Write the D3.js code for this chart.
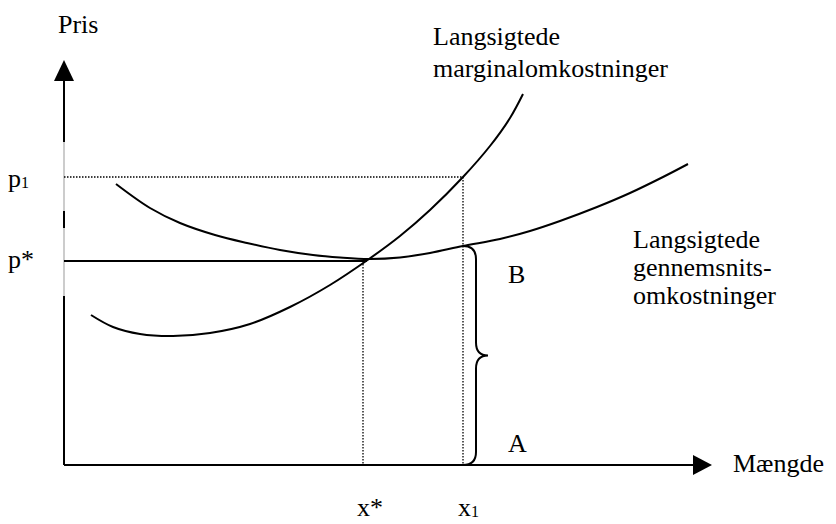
<!DOCTYPE html>
<html lang="da">
<head>
  <meta charset="UTF-8">
  <title>Langsigtede omkostninger</title>
  <style>
    body {
      margin: 0;
      background: #fff;
    }

    svg text {
      font-family: "Liberation Serif", "Times New Roman", serif;
      font-size: 26px;
      fill: #000;
    }

    .curve {
      fill: none;
      stroke: #000;
      stroke-width: 2;
    }

    .guide {
      fill: none;
      stroke: #000;
      stroke-width: 1.3;
      stroke-dasharray: 1.5 1.5;
    }
  </style>
</head>
<body>
  <svg id="chart" width="836" height="524"></svg>

  <script src="https://d3js.org/d3.v7.min.js"></script>
  <script>
    // curves (quantity, price)
    const mcQuantity = [27, 49, 76, 109, 146, 186, 226, 266, 305, 336, 366, 399, 426, 446, 459];
    const mcPrice    = [150, 138, 131, 129, 132, 141, 158, 180, 206, 229, 255, 288, 319, 347, 371];

    const acQuantity = [52, 86, 116, 151, 183, 216, 249, 276, 305, 336, 366, 399, 436, 466, 496, 533, 566, 599, 624];
    const acPrice    = [281, 257, 242, 230, 222, 215, 210, 207.5, 206, 207.5, 212, 219, 226, 234, 244, 258, 272, 288, 301];

    const pStar = 204;
    const pOne = 288;
    const xStar = 299;
    const xOne = 399;
    const pStarLineEnd = 303;

    // the price axis is partly covered by the label boxes in the original
    const yAxisSolid = [[0, 169], [237, 254], [323, 384]];

    const topLabel = ["Langsigtede", "marginalomkostninger"];
    const rightLabel = ["Langsigtede", "gennemsnits-", "omkostninger"];

    const x = d3.scaleLinear().domain([0, 648]).range([64, 712]);
    const y = d3.scaleLinear().domain([0, 405]).range([465, 60]);

    const svg = d3.select("#chart");

    // price axis
    svg.append("line")
      .attr("x1", x(0)).attr("x2", x(0))
      .attr("y1", y(0)).attr("y2", y(384))
      .attr("stroke", "#999")
      .attr("stroke-width", 1);

    svg.selectAll(".yseg")
      .data(yAxisSolid)
      .enter()
      .append("line")
      .attr("class", "yseg")
      .attr("x1", x(0)).attr("x2", x(0))
      .attr("y1", d => y(d[0])).attr("y2", d => y(d[1]))
      .attr("stroke", "#000")
      .attr("stroke-width", 2);

    svg.append("path")
      .attr("d", `M${x(0)},${y(405)}L${x(0) - 10},${y(384)}L${x(0) + 10},${y(384)}Z`)
      .attr("fill", "#000");

    // quantity axis
    svg.append("line")
      .attr("x1", x(0)).attr("x2", x(630))
      .attr("y1", y(0)).attr("y2", y(0))
      .attr("stroke", "#000")
      .attr("stroke-width", 2);

    svg.append("path")
      .attr("d", `M${x(648)},${y(0)}L${x(629)},${y(0) - 10}L${x(629)},${y(0) + 10}Z`)
      .attr("fill", "#000");

    // dotted guides
    svg.append("path")
      .attr("class", "guide")
      .attr("d", `M${x(0)},${y(pOne)}H${x(xOne)}V${y(0)}`);

    svg.append("path")
      .attr("class", "guide")
      .attr("d", `M${x(xStar)},${y(pStar)}V${y(0)}`);

    // p* line
    svg.append("line")
      .attr("x1", x(0)).attr("x2", x(pStarLineEnd))
      .attr("y1", y(pStar)).attr("y2", y(pStar))
      .attr("stroke", "#000")
      .attr("stroke-width", 2);

    const line = d3.line()
      .x(d => x(d[0]))
      .y(d => y(d[1]))
      .curve(d3.curveCatmullRom);

    svg.append("path")
      .attr("class", "curve")
      .attr("d", line(d3.zip(mcQuantity, mcPrice)));

    svg.append("path")
      .attr("class", "curve")
      .attr("d", line(d3.zip(acQuantity, acPrice)));

    // brace between x1 on the AC curve and the axis
    const acAtX1 = acPrice[acQuantity.indexOf(xOne)];
    const bx = x(xOne), bTop = y(acAtX1), bBot = y(0);
    const bMid = (bTop + bBot) / 2;
    const br = 13, tip = 12;
    svg.append("path")
      .attr("class", "curve")
      .attr("d",
        `M${bx},${bTop}` +
        `Q${bx + br},${bTop} ${bx + br},${bTop + br}` +
        `V${bMid - br}` +
        `Q${bx + br},${bMid} ${bx + br + tip},${bMid}` +
        `Q${bx + br},${bMid} ${bx + br},${bMid + br}` +
        `V${bBot - br}` +
        `Q${bx + br},${bBot} ${bx},${bBot}`);

    // texts
    svg.append("text").attr("x", 58).attr("y", 33).text("Pris");

    const p1 = svg.append("text").attr("x", 8).attr("y", 187);
    p1.append("tspan").text("p");
    p1.append("tspan").attr("font-size", 16).attr("dy", 1).text("1");

    svg.append("text").attr("x", 8).attr("y", 268).text("p*");

    svg.selectAll(".toplabel")
      .data(topLabel)
      .enter()
      .append("text")
      .attr("class", "toplabel")
      .attr("x", 433)
      .attr("y", (d, i) => 45 + i * 32)
      .text(d => d);

    svg.selectAll(".rightlabel")
      .data(rightLabel)
      .enter()
      .append("text")
      .attr("class", "rightlabel")
      .attr("x", 633)
      .attr("y", (d, i) => 248 + i * 28)
      .text(d => d);

    svg.append("text").attr("x", 508).attr("y", 283).text("B");
    svg.append("text").attr("x", 508).attr("y", 452).text("A");
    svg.append("text").attr("x", 733).attr("y", 472).text("Mængde");

    svg.append("text").attr("x", 357).attr("y", 516).text("x*");
    const x1 = svg.append("text").attr("x", 458).attr("y", 516);
    x1.append("tspan").text("x");
    x1.append("tspan").attr("font-size", 16).attr("dy", 1).text("1");
  </script>
</body>
</html>
